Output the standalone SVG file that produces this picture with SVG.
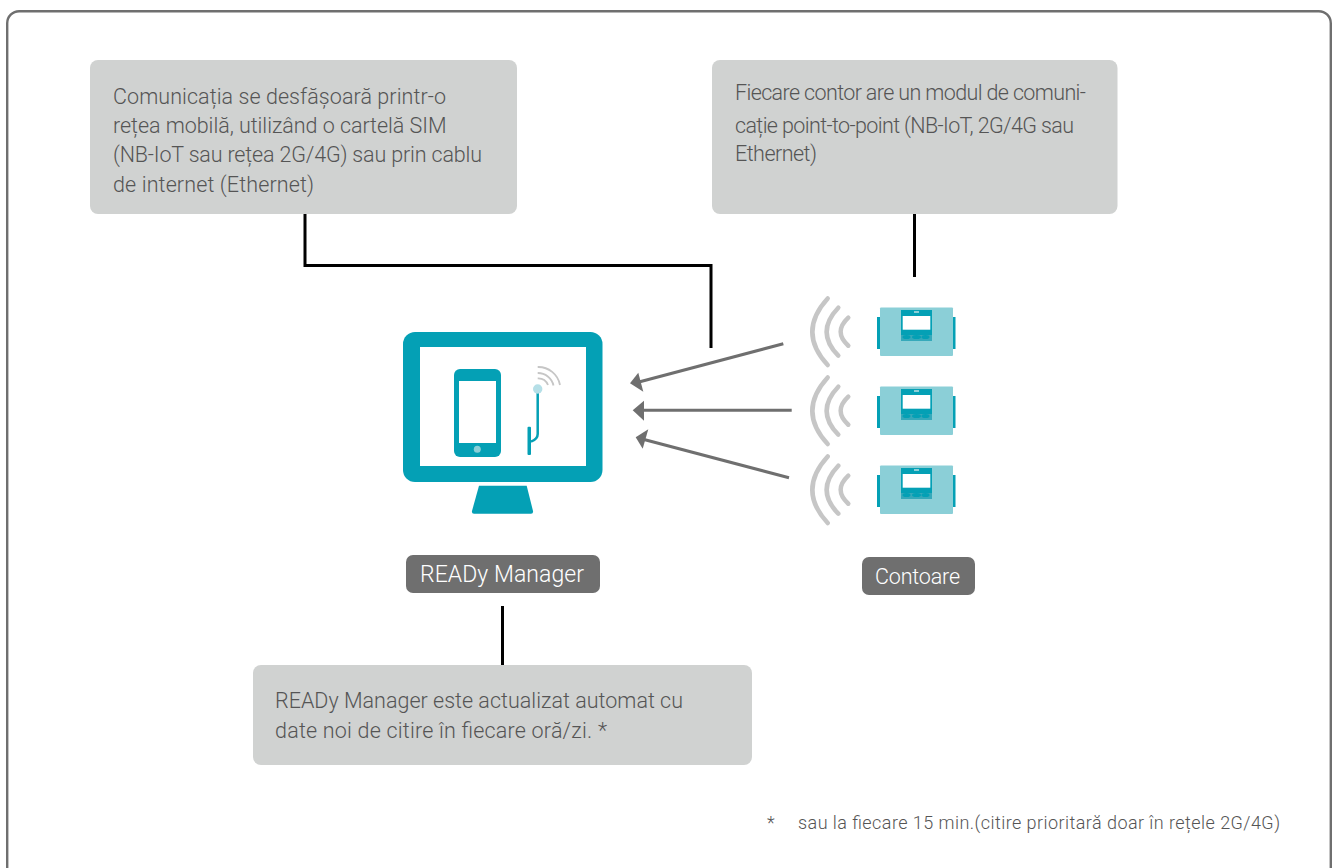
<svg xmlns="http://www.w3.org/2000/svg" xmlns:xlink="http://www.w3.org/1999/xlink" width="1336" height="868" viewBox="0 0 1336 868">
<style>
text{font-family:"Roboto","Liberation Sans",sans-serif;font-weight:300}
.t{font-size:21.5px;fill:#555}
.box{fill:#d0d2d1}
.lbl{fill:#6f6f6f}
.w{font-size:23px;fill:#fff}
.c{fill:none;stroke:#000;stroke-width:3}
.a{stroke:#6f6f6f;stroke-width:3;fill:none}
.h{fill:#6f6f6f}
.arc{fill:none;stroke:#c6c6c6;stroke-width:4.5;stroke-linecap:round}
.teal{fill:#04a0b5}
</style>
<defs>
<g id="meter">
<g class="arc"><path d="M827.7 298.5Q797 332 827.7 365"/><path d="M838.3 307.7Q815 332 838.3 355.7"/><path d="M848.3 317.7Q833 332 848.3 345.7"/></g>
<rect x="877" y="317" width="78.5" height="32" class="teal"/>
<rect x="880" y="307.5" width="73" height="48.5" rx="1" fill="#8bcfd7"/>
<rect x="901" y="310" width="31" height="31" class="teal"/>
<rect x="901" y="335" width="31" height="6" fill="#36a9ba"/>
<rect x="902.7" y="316" width="27.6" height="13.7" fill="#fff"/>
<rect x="914" y="311" width="5" height="2" fill="#8bcfd7"/>
<g class="teal"><ellipse cx="906.5" cy="337" rx="4" ry="2"/><ellipse cx="916.5" cy="337" rx="4.5" ry="2"/><ellipse cx="925.5" cy="337" rx="4" ry="2"/></g>
</g>
</defs>
<rect width="1336" height="868" fill="#fff"/>
<rect id="frame" x="7.2" y="11.2" width="1323.6" height="880" rx="12" fill="none" stroke="#6f6f6f" stroke-width="2.4"/>
<g id="connectors">
<path class="c" d="M305 214V265.5H711V348"/>
<path class="c" d="M914.5 214V277"/>
<path class="c" d="M502.5 606V665"/>
<path class="a" d="M783.3 343.7L638 382.3"/><polygon class="h" points="630,383.3 638.3,372.7 643.3,391.7"/>
<path class="a" d="M791.7 410.3H642"/><polygon class="h" points="632.7,410.3 644,400.7 644,420.7"/>
<path class="a" d="M789 477.7L644 439.5"/><polygon class="h" points="635.7,437.3 648.3,429.3 642.7,448.7"/>
</g>
<g id="note-network">
<rect class="box" x="90" y="60" width="427" height="154" rx="8"/>
<text class="t" x="113" y="104" textLength="333">Comunicația se desfășoară printr-o</text>
<text class="t" x="113" y="133" textLength="333.500">rețea mobilă, utilizând o cartelă SIM</text>
<text class="t" x="113" y="162" textLength="369">(NB-IoT sau rețea 2G/4G) sau prin cablu</text>
<text class="t" x="113" y="192" textLength="201">de internet (Ethernet)</text>
</g>
<g id="note-meter">
<rect class="box" x="712" y="60" width="405.500" height="154" rx="8"/>
<text class="t" x="735" y="100" textLength="351">Fiecare contor are un modul de comuni-</text>
<text class="t" x="735" y="133" textLength="339">cație point-to-point (NB-IoT, 2G/4G sau</text>
<text class="t" x="735" y="161" textLength="82">Ethernet)</text>
</g>
<g id="note-manager">
<rect class="box" x="253" y="665" width="499" height="100" rx="8"/>
<text class="t" x="275" y="708" textLength="408">READy Manager este actualizat automat cu</text>
<text class="t" x="275" y="738" textLength="332">date noi de citire în fiecare oră/zi. *</text>
</g>
<g id="ready-manager">
<rect class="teal" x="403" y="332" width="199.500" height="150" rx="12"/>
<rect x="420" y="347" width="166" height="119" fill="#fff"/>
<path class="teal" d="M479 485.700H526.700L533 511Q533.500 513.700 531 513.700H474Q471.500 513.700 472 511Z"/>
<rect class="teal" x="454" y="369" width="47" height="88" rx="6"/>
<rect x="459" y="381" width="37" height="62" fill="#fff"/>
<circle cx="477.300" cy="449.300" r="3.500" fill="#8bcfd7"/>
<path d="M537.700 389V434Q537.700 439 531 441.700" fill="none" stroke="#04a0b5" stroke-width="2.500"/>
<rect class="teal" x="527.500" y="426.700" width="3.500" height="28.300" rx="1"/>
<g fill="none" stroke="#c6c6c6" stroke-width="1.800"><path d="M537.700 378.400A10.600 10.600 0 0 1 548 385"/><path d="M537.700 373A16 16 0 0 1 553.500 385.500"/><path d="M537.700 367A22 22 0 0 1 560 385"/></g>
<circle cx="537.700" cy="389" r="4.700" fill="#b5dfe7"/>
</g>
<g id="label-manager">
<rect class="lbl" x="406" y="555" width="194" height="38" rx="7"/>
<text class="w" x="420" y="582" textLength="164">READy Manager</text>
</g>
<g id="meter-1"><use href="#meter" xlink:href="#meter"/></g>
<g id="meter-2"><use href="#meter" xlink:href="#meter" y="79"/></g>
<g id="meter-3"><use href="#meter" xlink:href="#meter" y="158"/></g>
<g id="label-meters">
<rect class="lbl" x="862" y="557" width="113" height="38" rx="7"/>
<text class="w" x="875" y="584" textLength="85" style="font-size:21.500px">Contoare</text>
</g>
<g id="footnote">
<text class="t" x="767" y="829" style="font-size:18px">*</text>
<text class="t" x="798" y="829" textLength="482" style="font-size:18px">sau la fiecare 15 min.(citire prioritară doar în rețele 2G/4G)</text>
</g>
</svg>
